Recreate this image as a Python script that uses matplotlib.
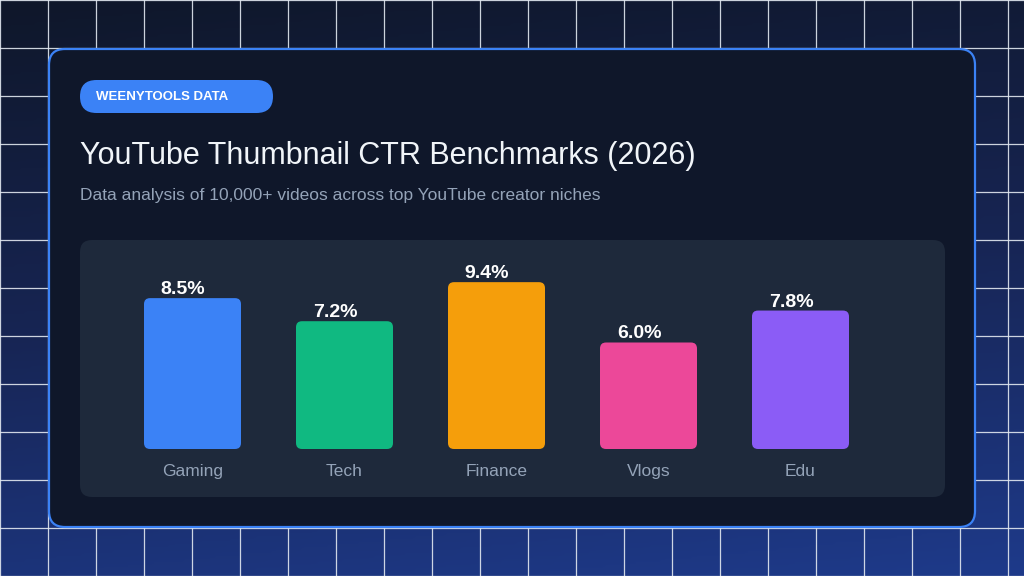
import numpy as np
import matplotlib
matplotlib.use("Agg")
import matplotlib.pyplot as plt
from matplotlib.patches import FancyBboxPatch
from matplotlib.colors import LinearSegmentedColormap

plt.rcParams['font.family'] = ['Liberation Sans', 'DejaVu Sans']

# data
categories = ['Gaming', 'Tech', 'Finance', 'Vlogs', 'Edu']
ctr = [8.5, 7.2, 9.4, 6.0, 7.8]
bar_colors = ['#3b82f6', '#10b981', '#f59e0b', '#ec4899', '#8b5cf6']

title = 'YouTube Thumbnail CTR Benchmarks (2026)'
subtitle = 'Data analysis of 10,000+ videos across top YouTube creator niches'
badge = 'WEENYTOOLS DATA'

W, H = 1024, 576
fig = plt.figure(figsize=(W / 100, H / 100), dpi=100)

# background layer in pixel coords (y down)
bg = fig.add_axes([0, 0, 1, 1])
bg.set_xlim(0, W)
bg.set_ylim(H, 0)
bg.axis('off')

yy, xx = np.mgrid[0:1:200j, 0:1:200j]
grad = 0.85 * yy + 0.15 * xx
cmap = LinearSegmentedColormap.from_list('bgc', ['#0f172a', '#172554', '#1e3a8a'])
bg.imshow(grad, cmap=cmap, extent=[0, W, H, 0], aspect='auto', zorder=0)

for gx in range(0, W + 1, 48):
    bg.axvline(gx, color='#e2e8f0', lw=0.9, alpha=0.9, zorder=1)
for gy in range(0, H + 1, 48):
    bg.axhline(gy, color='#e2e8f0', lw=0.9, alpha=0.9, zorder=1)

# card
card = FancyBboxPatch((49, 49), 926, 478, boxstyle='round,pad=0,rounding_size=16',
                      fc='#0f172a', ec='#3b82f6', lw=1.6, zorder=2)
bg.add_patch(card)

# badge
pill = FancyBboxPatch((80, 80), 193, 33, boxstyle='round,pad=0,rounding_size=16.5',
                      fc='#3b82f6', ec='none', zorder=3)
bg.add_patch(pill)
bg.text(96, 97.5, badge, color='white', fontsize=9.5, fontweight='bold',
        va='center', ha='left', zorder=4)

bg.text(80, 164, title, color='#f1f5f9', fontsize=22, va='baseline', ha='left', zorder=4)
bg.text(80, 200, subtitle, color='#94a3b8', fontsize=12.5, va='baseline', ha='left', zorder=4)

# inner panel
panel = FancyBboxPatch((80, 240), 865, 257, boxstyle='round,pad=0,rounding_size=12',
                       fc='#1e293b', ec='none', zorder=3)
bg.add_patch(panel)

# bar chart axes
ax_left, ax_right = 80, 945
ax_base, ax_top = 449, 240
ax = fig.add_axes([ax_left / W, (H - ax_base) / H,
                   (ax_right - ax_left) / W, (ax_base - ax_top) / H])
ax.patch.set_alpha(0)
for s in ax.spines.values():
    s.set_visible(False)

x = np.arange(len(categories))
step = 152.0
ax.set_xlim((ax_left - 192.5) / step, (ax_right - 192.5) / step)
ppu = 17.75
ax.set_ylim(0, (ax_base - ax_top) / ppu)

bw = 97 / step
bars = ax.bar(x, ctr, width=bw, color=bar_colors, zorder=2)
# swap to rounded corners
r_px = 6
aspect = (1 / ppu) / (1 / step)
for b, c in zip(bars, bar_colors):
    b.set_visible(False)
    rp = FancyBboxPatch((b.get_x(), b.get_y()), b.get_width(), b.get_height(),
                        boxstyle='round,pad=0,rounding_size=%f' % (r_px / step),
                        mutation_aspect=aspect, fc=c, ec='none', zorder=2)
    ax.add_patch(rp)

for xi, v in zip(x, ctr):
    ax.annotate('%.1f%%' % v, (xi, v), xytext=(-6.8, 0), textcoords='offset points',
                ha='center', va='bottom', color='white', fontsize=14, fontweight='bold')

ax.set_yticks([])
ax.set_xticks(x)
ax.set_xticklabels(categories, color='#94a3b8', fontsize=12.5)
ax.tick_params(axis='x', length=0, pad=10.5)

fig.savefig('out.png', dpi=100)
